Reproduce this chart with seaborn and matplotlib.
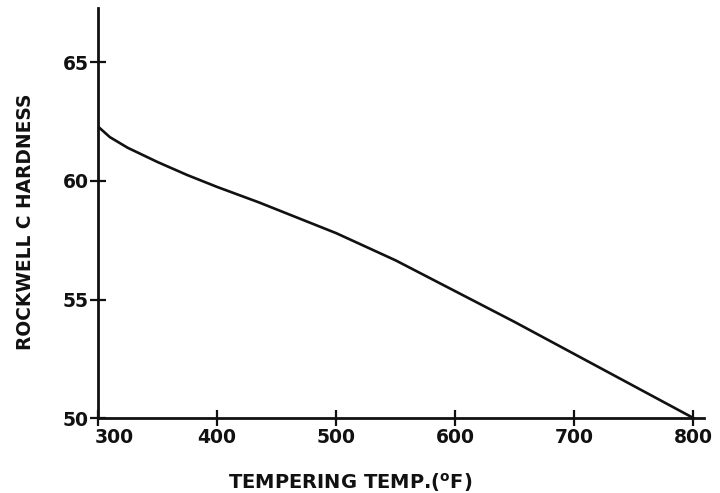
import matplotlib
matplotlib.use("Agg")
import matplotlib.pyplot as plt
import matplotlib.transforms as mtransforms
import seaborn as sns
import pandas as pd

# Tempering curve: hardness after tempering at each temperature
temper_temp_f = [300, 310, 325, 350, 375, 400, 435, 475, 500, 550, 600, 650, 700, 750, 800]
hardness_hrc = [62.3, 61.85, 61.4, 60.8, 60.25, 59.75, 59.1, 58.3, 57.8, 56.65, 55.35, 54.05, 52.7, 51.35, 50.0]

x_ticks = [300, 400, 500, 600, 700, 800]
y_ticks = [50, 55, 60, 65]

df = pd.DataFrame({"temp": temper_temp_f, "hrc": hardness_hrc})

sns.set_theme(style="white")
plt.rcParams["font.family"] = ["DejaVu Sans"]
plt.rcParams["font.weight"] = "bold"
plt.rcParams["mathtext.default"] = "bf"

fig = plt.figure(figsize=(7.2, 4.93), dpi=100)
ax = fig.add_axes([0.136, 0.152, 0.842, 0.832])

sns.lineplot(data=df, x="temp", y="hrc", ax=ax, color="#111111", linewidth=1.9)

ax.set_xlim(300, 809)
ax.set_ylim(50, 67.3)
ax.set_xticks(x_ticks)
ax.set_yticks(y_ticks)

for side in ("top", "right"):
    ax.spines[side].set_visible(False)
for side in ("left", "bottom"):
    ax.spines[side].set_linewidth(2.0)
    ax.spines[side].set_color("#111111")

ax.tick_params(axis="both", bottom=True, left=True, direction="inout",
               length=11, width=1.6, color="#111111",
               labelsize=13.5, labelcolor="#111111")
ax.tick_params(axis="x", pad=2)
ax.tick_params(axis="y", pad=1)

for lbl in ax.get_xticklabels() + ax.get_yticklabels():
    lbl.set_fontweight("bold")

# nudge the first x label to the right, away from the corner
first = ax.get_xticklabels()[0]
first.set_transform(first.get_transform() +
                    mtransforms.ScaledTranslation(16 / 100, 0, fig.dpi_scale_trans))

ax.set_xlabel("TEMPERING TEMP.($^{o}$F)", fontsize=14, fontweight="bold",
              color="#111111")
ax.set_ylabel("ROCKWELL C HARDNESS", fontsize=13.4, fontweight="bold",
              color="#111111")
ax.xaxis.set_label_coords(0.416, -0.128)
ax.yaxis.set_label_coords(-0.104, 0.478)

fig.savefig("out.png", dpi=100, facecolor="white")
